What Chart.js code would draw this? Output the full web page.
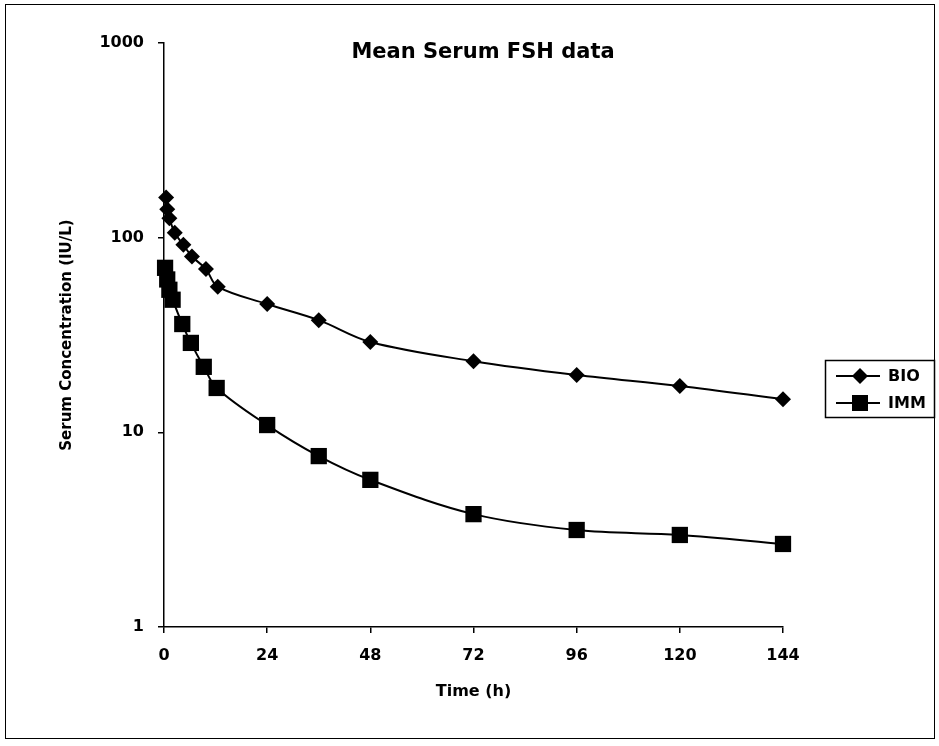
<!DOCTYPE html>
<html>
<head>
<meta charset="utf-8">
<title>Mean Serum FSH data</title>
<script src="https://cdn.jsdelivr.net/npm/chart.js@4.4.0/dist/chart.umd.min.js"></script>
<style>
  body { margin: 0; background: #fff; }
  #wrap { width: 939px; height: 746px; }
</style>
</head>
<body>
<div id="wrap"><canvas id="myChart" width="939" height="746"></canvas></div>
<script>
// series (time in hours, concentration in IU/L)
const bioTimes  = [0.5, 0.75, 1.25, 2.5, 4.5, 6.5, 9.75, 12.5, 24, 36, 48, 72, 96, 120, 144];
const bioValues = [161, 140, 126, 106, 92, 80, 69, 56, 45.6, 37.7, 29.1, 23.2, 19.7, 17.3, 14.8];
const immTimes  = [0.25, 0.75, 1.25, 2, 4.25, 6.25, 9.25, 12.25, 24, 36, 48, 72, 96, 120, 144];
const immValues = [70, 61, 54, 48, 36, 28.8, 21.7, 16.9, 10.9, 7.55, 5.7, 3.8, 3.15, 2.97, 2.67];

const seriesNames = ['BIO', 'IMM'];
const xTicks = [0, 24, 48, 72, 96, 120, 144];
const yTicks = [1, 10, 100, 1000];
const titleText = 'Mean Serum FSH data';

const FONT = '"DejaVu Sans", "Liberation Sans", Arial, sans-serif';

function toPoints(xs, ys) {
  return xs.map((x, i) => ({ x: x, y: ys[i] }));
}

// title, outer frame and the boxed legend on the right
const decorations = {
  id: 'decorations',
  afterDraw(chart) {
    const ctx = chart.ctx;
    ctx.save();
    ctx.fillStyle = '#000';
    ctx.strokeStyle = '#000';

    ctx.font = 'bold 21px ' + FONT;
    ctx.textAlign = 'center';
    ctx.textBaseline = 'alphabetic';
    ctx.fillText(titleText, 483, 58);

    ctx.lineWidth = 1;
    ctx.strokeRect(5.5, 4.5, 929, 734);

    // legend
    ctx.lineWidth = 1.5;
    ctx.strokeRect(825.5, 360.5, 109, 57);
    ctx.font = 'bold 16px ' + FONT;
    ctx.textAlign = 'left';
    ctx.textBaseline = 'middle';
    const rows = [376, 403];
    chart.data.datasets.forEach((ds, i) => {
      const y = rows[i];
      ctx.lineWidth = 2;
      ctx.beginPath();
      ctx.moveTo(836, y);
      ctx.lineTo(880, y);
      ctx.stroke();
      ctx.beginPath();
      if (ds.pointStyle === 'rectRot') {
        ctx.moveTo(860, y - 8);
        ctx.lineTo(868, y);
        ctx.lineTo(860, y + 8);
        ctx.lineTo(852, y);
      } else {
        ctx.rect(852, y - 8, 16, 16);
      }
      ctx.closePath();
      ctx.fill();
      ctx.fillText(ds.label, 888, y + 1);
    });
    ctx.restore();
  }
};

const data = {
  datasets: [
    {
      label: seriesNames[0],
      data: toPoints(bioTimes, bioValues),
      borderColor: '#000',
      backgroundColor: '#000',
      borderWidth: 2,
      pointStyle: 'rectRot',
      pointRadius: 8,
      pointBorderWidth: 0,
      tension: 0.35,
      clip: false
    },
    {
      label: seriesNames[1],
      data: toPoints(immTimes, immValues),
      borderColor: '#000',
      backgroundColor: '#000',
      borderWidth: 2,
      pointStyle: 'rect',
      pointRadius: 11.5,
      pointBorderWidth: 0,
      tension: 0.35,
      clip: false
    }
  ]
};

const config = {
  type: 'line',
  data: data,
  options: {
    responsive: false,
    animation: false,
    devicePixelRatio: 1,
    layout: { padding: { top: 43, right: 156, left: 0, bottom: 0 } },
    plugins: {
      legend: { display: false },
      title: { display: false },
      tooltip: { enabled: false }
    },
    scales: {
      x: {
        type: 'linear',
        min: 0,
        max: 144,
        afterFit: function (scale) { scale.height = 119; },
        afterBuildTicks: function (scale) { scale.ticks = xTicks.map(v => ({ value: v })); },
        grid: { drawOnChartArea: false, drawTicks: true, tickLength: 6, color: '#000', lineWidth: 1.5 },
        border: { display: true, color: '#000', width: 1.5 },
        ticks: {
          color: '#000',
          padding: 13,
          maxRotation: 0,
          font: { family: FONT, size: 16, weight: 'bold' }
        },
        title: {
          display: true,
          text: 'Time (h)',
          color: '#000',
          font: { family: FONT, size: 16, weight: 'bold' },
          padding: { top: 0, bottom: 45 }
        }
      },
      y: {
        type: 'logarithmic',
        min: 1,
        max: 1000,
        afterFit: function (scale) { scale.width = 164; },
        afterBuildTicks: function (scale) { scale.ticks = yTicks.map(v => ({ value: v })); },
        grid: { drawOnChartArea: false, drawTicks: true, tickLength: 6, color: '#000', lineWidth: 1.5 },
        border: { display: true, color: '#000', width: 1.5 },
        ticks: {
          color: '#000',
          padding: 14,
          callback: function (value) { return String(value); },
          font: { family: FONT, size: 16, weight: 'bold' }
        },
        title: {
          display: true,
          text: 'Serum Concentration (IU/L)',
          color: '#000',
          font: { family: FONT, size: 15, weight: 'bold' },
          padding: { top: 58, bottom: 0 }
        }
      }
    }
  },
  plugins: [decorations]
};

const myChart = new Chart(document.getElementById('myChart'), config);
</script>
</body>
</html>
